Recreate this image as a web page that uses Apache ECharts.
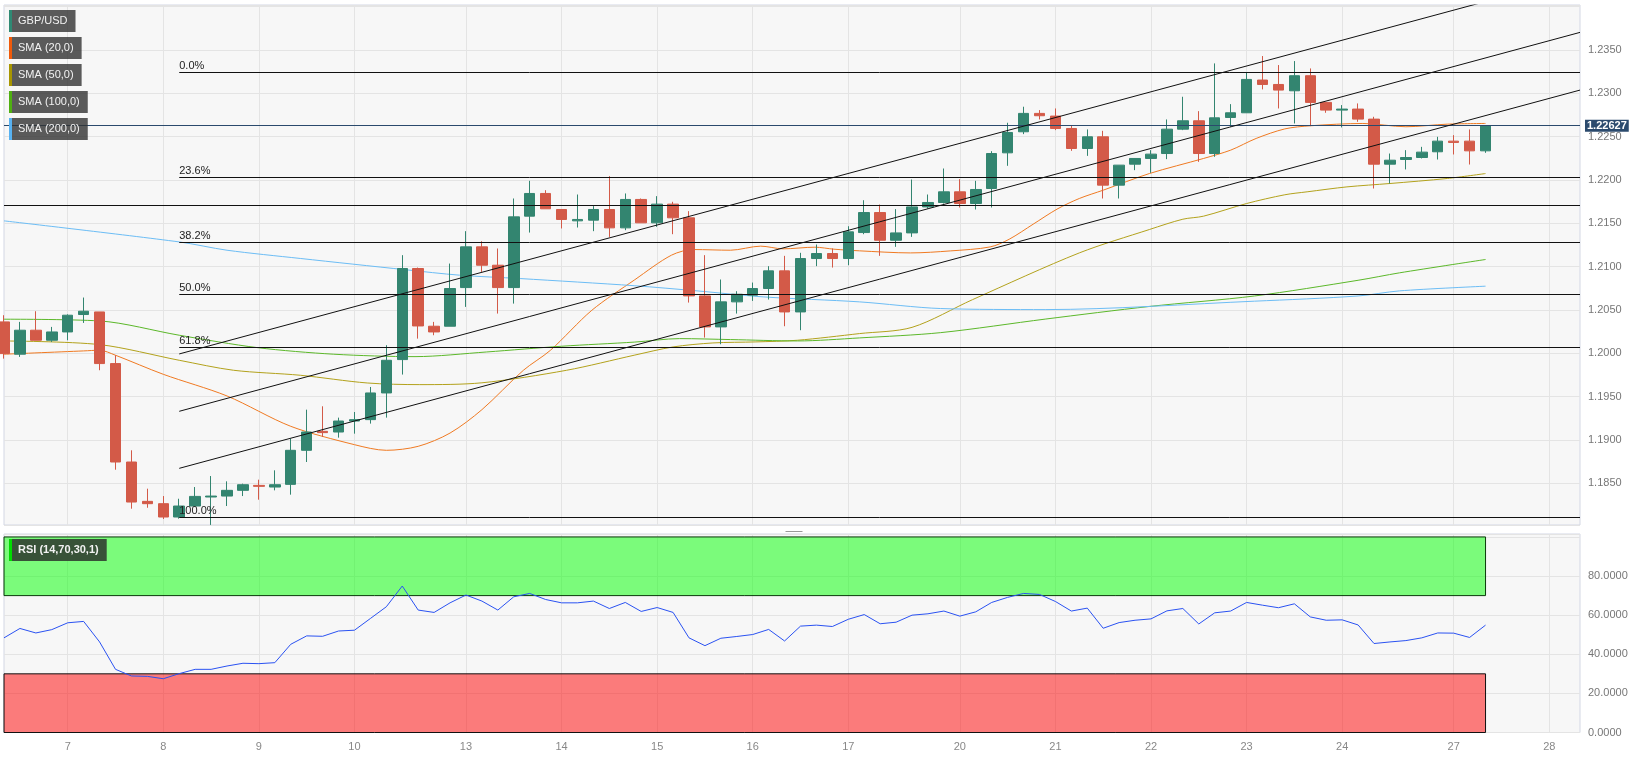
<!DOCTYPE html>
<html><head><meta charset="utf-8">
<script src="https://cdn.jsdelivr.net/npm/echarts@6/dist/echarts.min.js"></script>
<style>html,body{margin:0;padding:0;background:#fff;}#c{width:1639px;height:766px;}</style>
</head><body><div id="c"></div>
<script>
// ---- data ----
const dayLabels   = ['7','8','9','10','13','14','15','16','17','20','21','22','23','24','27','28'];
const dayStartIdx = [4,10,16,22,29,35,41,47,53,60,66,72,78,84,91,97];
const xMax = 98.93;

const open = [1.20363,1.19990,1.20267,1.20151,1.20247,1.20448,1.20478,1.19882,1.18746,1.18292,
1.18265,1.18111,1.18238,1.18342,1.18353,1.18419,1.18476,1.18457,1.18488,1.18881,
1.19100,1.19092,1.19219,1.19235,1.19543,1.19928,1.20979,1.20313,1.20313,1.20759,
1.21229,1.21017,1.20759,1.21583,1.21845,1.21660,1.21529,1.21537,1.21660,1.21448,
1.21776,1.21506,1.21722,1.21564,1.20663,1.20305,1.20594,1.20671,1.20748,1.20952,
1.20478,1.21094,1.21152,1.21094,1.21394,1.21625,1.21305,1.21390,1.21690,1.21741,
1.21864,1.21729,1.21902,1.22314,1.22557,1.22769,1.22738,1.22595,1.22364,1.22499,
1.21941,1.22183,1.22249,1.22306,1.22587,1.22684,1.22306,1.22722,1.22776,1.23154,
1.23103,1.23030,1.23204,1.22896,1.22807,1.22819,1.22703,1.22183,1.22237,1.22260,
1.22326,1.22449,1.22449,1.22337];
const close = [1.19997,1.20267,1.20151,1.20247,1.20440,1.20486,1.19882,1.18746,1.18284,1.18265,
1.18111,1.18238,1.18349,1.18353,1.18419,1.18484,1.18465,1.18484,1.18881,1.19092,
1.19085,1.19219,1.19235,1.19543,1.19920,1.20979,1.20316,1.20247,1.20748,1.21229,
1.21017,1.20759,1.21575,1.21845,1.21668,1.21545,1.21545,1.21660,1.21448,1.21776,
1.21506,1.21722,1.21564,1.20663,1.20305,1.20594,1.20682,1.20748,1.20952,1.20478,
1.21094,1.21152,1.21094,1.21402,1.21625,1.21305,1.21390,1.21690,1.21741,1.21864,
1.21729,1.21891,1.22306,1.22549,1.22769,1.22742,1.22595,1.22364,1.22499,1.21941,
1.22172,1.22249,1.22299,1.22587,1.22684,1.22306,1.22718,1.22776,1.23161,1.23103,
1.23038,1.23204,1.22896,1.22807,1.22819,1.22703,1.22183,1.22229,1.22260,1.22322,
1.22449,1.22434,1.22337,1.22627];
const low = [1.19939,1.19959,1.20151,1.20132,1.20151,1.20351,1.19805,1.18657,1.18207,1.18218,
1.18088,1.18092,1.18226,1.18020,1.18238,1.18353,1.18311,1.18419,1.18369,1.18746,
1.19035,1.19027,1.19073,1.19189,1.19258,1.19755,1.20170,1.20209,1.20313,1.20536,
1.20940,1.20459,1.20574,1.21394,1.21668,1.21441,1.21452,1.21410,1.21344,1.21421,
1.21506,1.21460,1.21375,1.20586,1.20182,1.20105,1.20459,1.20605,1.20621,1.20313,
1.20267,1.21006,1.20990,1.21017,1.21375,1.21125,1.21229,1.21344,1.21671,1.21729,
1.21683,1.21660,1.21683,1.22164,1.22530,1.22699,1.22576,1.22337,1.22279,1.21787,
1.21787,1.22114,1.22083,1.22241,1.22576,1.22210,1.22268,1.22615,1.22776,1.23046,
1.22826,1.22653,1.22622,1.22776,1.22607,1.22672,1.21902,1.21960,1.22122,1.22249,
1.22237,1.22295,1.22179,1.22314];
const high = [1.20440,1.20363,1.20486,1.20305,1.20450,1.20644,1.20478,1.19978,1.18881,1.18438,
1.18353,1.18322,1.18457,1.18584,1.18523,1.18496,1.18542,1.18650,1.19015,1.19350,
1.19389,1.19258,1.19323,1.19612,1.20094,1.21133,1.20990,1.20363,1.21036,1.21410,
1.21294,1.21210,1.21787,1.21991,1.21883,1.21660,1.21833,1.21699,1.22045,1.21845,
1.21787,1.21814,1.21749,1.21641,1.21133,1.20852,1.20717,1.20817,1.21006,1.21125,
1.21160,1.21256,1.21210,1.21467,1.21767,1.21717,1.21664,1.22006,1.21833,1.22133,
1.22010,1.21991,1.22333,1.22661,1.22846,1.22807,1.22826,1.22634,1.22584,1.22568,
1.22172,1.22249,1.22345,1.22699,1.22961,1.22795,1.23346,1.22876,1.23238,1.23431,
1.23327,1.23373,1.23288,1.22896,1.22865,1.22884,1.22730,1.22306,1.22345,1.22383,
1.22499,1.22518,1.22584,1.22634];

const sma20 = [[0,1.19990],[5,1.20028],[6,1.20036],[7,1.19978],[10,1.19758],[14,1.19508],[18,1.19158],
[22,1.18946],[24,1.18881],[26,1.18927],[28,1.19080],[30,1.19350],[32.6,1.19804],[34.3,1.20035],
[36.9,1.20497],[39.6,1.20850],[41.9,1.21133],[43.3,1.21198],[45.6,1.21190],[47.5,1.21237],
[48.9,1.21206],[50.9,1.21225],[52.1,1.21202],[53.7,1.21183],[56.9,1.21159],[59.4,1.21182],
[61.9,1.21228],[63.1,1.21317],[64.6,1.21490],[66.1,1.21664],[67.5,1.21787],[69,1.21883],
[71.9,1.22075],[75.3,1.22249],[77,1.22345],[78.6,1.22480],[80.4,1.22590],[82,1.22626],
[85.3,1.22653],[88,1.22615],[90.6,1.22645],[93,1.22653]];
const sma50 = [[0,1.20143],[6,1.20101],[11,1.19920],[14.4,1.19805],[18.6,1.19747],[22.8,1.19658],
[26.1,1.19639],[30,1.19660],[35.3,1.19804],[39.6,1.19980],[42,1.20074],[44.5,1.20120],[47.2,1.20132],
[49.8,1.20151],[53.7,1.20228],[57,1.20300],[60.8,1.20620],[67.5,1.21159],[71.9,1.21429],[74,1.21548],
[75.3,1.21583],[78,1.21729],[80.4,1.21830],[81.8,1.21864],[84.3,1.21921],[87,1.21960],[90.6,1.22018],[93,1.22075]];
const sma100 = [[0,1.20394],[6,1.20374],[11,1.20209],[15.9,1.20066],[20.7,1.19990],[25.8,1.19962],
[30.3,1.20016],[35,1.20082],[39.6,1.20130],[42.4,1.20170],[45.6,1.20159],[49.8,1.20143],[53.7,1.20178],
[58.8,1.20239],[65.4,1.20396],[71.9,1.20541],[78.5,1.20662],[85,1.20843],[87.6,1.20929],[93,1.21083]];
const sma200 = [[0,1.21529],[11,1.21286],[14,1.21190],[18.6,1.21095],[25.2,1.20965],[28.6,1.20902],
[32.4,1.20863],[39.6,1.20780],[43.5,1.20721],[47.7,1.20651],[53.7,1.20594],[58.8,1.20517],[65.4,1.20505],
[78.5,1.20602],[85,1.20662],[87.6,1.20721],[93,1.20775]];

const rsi = [48.4,53.2,50.9,52.6,56.1,56.8,46.3,32.3,28.9,28.7,
27.5,30.1,32.3,32.3,34.0,35.4,35.2,35.7,45.1,49.4,
49.2,51.9,52.3,58.3,64.3,74.9,62.6,61.4,66.3,70.3,
67.2,62.6,69.4,71.1,68.0,66.3,66.3,67.2,63.4,66.5,
61.9,63.9,61.4,48.4,44.4,48.2,49.1,50.1,52.7,46.8,
54.4,54.9,54.2,57.9,60.3,55.6,56.4,60.0,60.7,62.1,
59.5,61.7,66.5,69.1,71.1,70.6,67.0,62.1,63.6,53.3,
56.2,57.4,58.1,62.2,63.4,55.5,61.2,62.1,66.5,65.1,
63.8,65.8,59.1,57.4,57.6,55.0,45.5,46.3,47.0,48.4,
50.9,50.8,48.6,54.9];

const fibHigh = 1.23246, fibLow = 1.18107, fibStartIdx = 11;
const fibRatios = [0, 0.236, 0.382, 0.5, 0.618, 1];
const supportLevel = 1.21707;
const lastPrice = 1.22627;
const channelStartIdx = 11;
const channelStart = [1.19993, 1.19331, 1.18673];
const channelEnd   = [1.24354, 1.23704, 1.23038];
const rsiUpper = 70, rsiLower = 30;

const legendNames = ['GBP/USD','SMA (20,0)','SMA (50,0)','SMA (100,0)','SMA (200,0)'];
const legendColors = ['#2f8a74','#f05a0a','#a89600','#4fb011','#58b2f2'];

// ---- build ----
const BULL = '#338570', BEAR = '#d35a48';
const FONT = "'Liberation Sans', Arial, sans-serif";
const labelMap = {};
dayStartIdx.forEach((v, i) => labelMap[v] = dayLabels[i]);
const candles = open.map((o, i) => [i, o, close[i], low[i], high[i]]);
const fibRange = fibHigh - fibLow;
const fibLines = fibRatios.map(r => {
  const lvl = fibHigh - r * fibRange;
  return [{coord: [fibStartIdx, lvl], label: {formatter: (r * 100).toFixed(1) + '%'}}, {coord: [xMax, lvl]}];
});

const xBase = (gi, showLabels) => ({
  type: 'value', gridIndex: gi, min: 0, max: xMax,
  axisLine: {show: false},
  axisTick: {show: false, customValues: dayStartIdx},
  axisLabel: {show: showLabels, customValues: dayStartIdx, formatter: v => labelMap[v] || '',
              color: '#888', fontSize: 11, fontFamily: FONT, margin: 9},
  splitLine: {show: true, lineStyle: {color: '#e4e4e4', width: 1}}
});

const smaSeries = (data, color) => ({
  type: 'line', xAxisIndex: 0, yAxisIndex: 0, data: data, showSymbol: false, smooth: 0.3,
  lineStyle: {color: color, width: 1}, itemStyle: {color: color}, z: 3, silent: true
});

const graphics = [];
legendNames.forEach((n, i) => {
  graphics.push({type: 'group', left: 9, top: 10 + 27 * i, z: 100, children: [
    {type: 'rect', z: 100, shape: {x: 0, y: 0, width: 3, height: 22}, style: {fill: legendColors[i]}},
    {type: 'text', z: 100, x: 3, y: 0, style: {text: n, fill: '#f2f2f2', font: '11px ' + FONT, lineHeight: 12,
      backgroundColor: 'rgba(50,50,50,0.8)', padding: [5, 8, 5, 6]}}
  ]});
});
graphics.push({type: 'group', left: 9, top: 539, z: 100, children: [
  {type: 'rect', z: 100, shape: {x: 0, y: 0, width: 3, height: 22}, style: {fill: '#00dd00'}},
  {type: 'text', z: 100, x: 3, y: 0, style: {text: 'RSI (14,70,30,1)', fill: '#f2f2f2', font: 'bold 11px ' + FONT, lineHeight: 12,
    backgroundColor: 'rgba(40,40,40,0.8)', padding: [5, 8, 5, 6]}}
]});
graphics.push({type: 'group', left: 783, top: 529, z: 100, children: [
  {type: 'line', shape: {x1: 0, y1: 0.5, x2: 17, y2: 0.5}, style: {stroke: '#999', lineWidth: 1}},
  {type: 'line', shape: {x1: 0, y1: 3.5, x2: 17, y2: 3.5}, style: {stroke: '#999', lineWidth: 1}}
]});

const option = {
  animation: false,
  backgroundColor: '#ffffff',
  textStyle: {fontFamily: FONT},
  grid: [
    {left: 4, top: 5, width: 1576, height: 520, show: true, backgroundColor: '#f7f7f7',
     borderColor: '#d3d7e4', borderWidth: 1, containLabel: false, outerBoundsMode: 'none'},
    {left: 4, top: 534, width: 1576, height: 198.5, show: true, backgroundColor: '#f7f7f7',
     borderColor: '#d3d7e4', borderWidth: 1, containLabel: false, outerBoundsMode: 'none'}
  ],
  xAxis: [xBase(0, false), xBase(1, true)],
  yAxis: [
    {type: 'value', gridIndex: 0, position: 'right', min: 1.18019, max: 1.2402, splitNumber: 12, scale: true,
     axisLine: {show: false}, axisTick: {show: false},
     axisLabel: {color: '#777', fontSize: 11, fontFamily: FONT, margin: 8, showMinLabel: false, showMaxLabel: false,
                 formatter: v => (v > 1.238 || v < 1.182 ? '' : v.toFixed(4))},
     splitLine: {show: true, lineStyle: {color: '#e4e4e4'}}},
    {type: 'value', gridIndex: 1, position: 'right', min: 0, max: 101.5, interval: 20,
     axisLine: {show: false}, axisTick: {show: false},
     axisLabel: {color: '#777', fontSize: 11, fontFamily: FONT, margin: 8,
                 formatter: v => (v <= 80 ? v.toFixed(4) : '')},
     splitLine: {show: true, lineStyle: {color: '#e4e4e4'}}}
  ],
  graphic: graphics,
  series: [
    {type: 'candlestick', xAxisIndex: 0, yAxisIndex: 0, data: candles, barWidth: 11, z: 4, silent: true,
     itemStyle: {color: BULL, color0: BEAR, borderColor: BULL, borderColor0: BEAR, borderWidth: 1}},
    smaSeries(sma20, '#f07a22'),
    smaSeries(sma50, '#b3a21c'),
    smaSeries(sma100, '#5cb82a'),
    smaSeries(sma200, '#6cbdf5'),
    ...channelStart.map((s, k) => ({
      type: 'line', xAxisIndex: 0, yAxisIndex: 0, showSymbol: false, silent: true, z: 5,
      data: [[channelStartIdx, s], [xMax, channelEnd[k]]],
      lineStyle: {color: '#111', width: 1}
    })),
    {type: 'line', xAxisIndex: 0, yAxisIndex: 0, data: [[0, lastPrice]], showSymbol: false, silent: true,
     lineStyle: {opacity: 0}, z: 6,
     markLine: {silent: true, symbol: ['none', 'none'], animation: false, precision: 5,
       data: [
         ...fibLines.map(p => [Object.assign({}, p[0], {lineStyle: {color: '#111', width: 1, type: 'solid'},
            label: {show: true, position: 'insideStartTop', distance: [0, 1], color: '#222', fontSize: 11,
                    fontFamily: FONT, formatter: p[0].label.formatter}}), p[1]]),
         {yAxis: supportLevel, lineStyle: {color: '#111', width: 1, type: 'solid'}, label: {show: false}},
         {yAxis: lastPrice, lineStyle: {color: '#2b4a6d', width: 1, type: 'solid'},
          label: {show: true, position: 'end', formatter: lastPrice.toFixed(5), color: '#fff', fontWeight: 'bold',
                  fontSize: 11, fontFamily: FONT, backgroundColor: '#2b4a6d', padding: [1, 2, 0, 2], distance: 5}}
       ]}},
    {type: 'line', xAxisIndex: 1, yAxisIndex: 1, data: rsi.map((v, i) => [i, v]), showSymbol: false, silent: true,
     lineStyle: {color: '#2a52f2', width: 1}, z: 5,
     markArea: {silent: true, data: [
       [{xAxis: 0, yAxis: rsiUpper, itemStyle: {color: 'rgba(0,255,0,0.5)', borderColor: '#0a3a0a', borderWidth: 1}},
        {xAxis: rsi.length - 1, yAxis: 100}],
       [{xAxis: 0, yAxis: 0, itemStyle: {color: 'rgba(255,0,0,0.5)', borderColor: '#111', borderWidth: 1}},
        {xAxis: rsi.length - 1, yAxis: rsiLower}]
     ]}}
  ]
};
const chart = echarts.init(document.getElementById('c'), null, {renderer: 'canvas'});
chart.setOption(option);
</script></body></html>
